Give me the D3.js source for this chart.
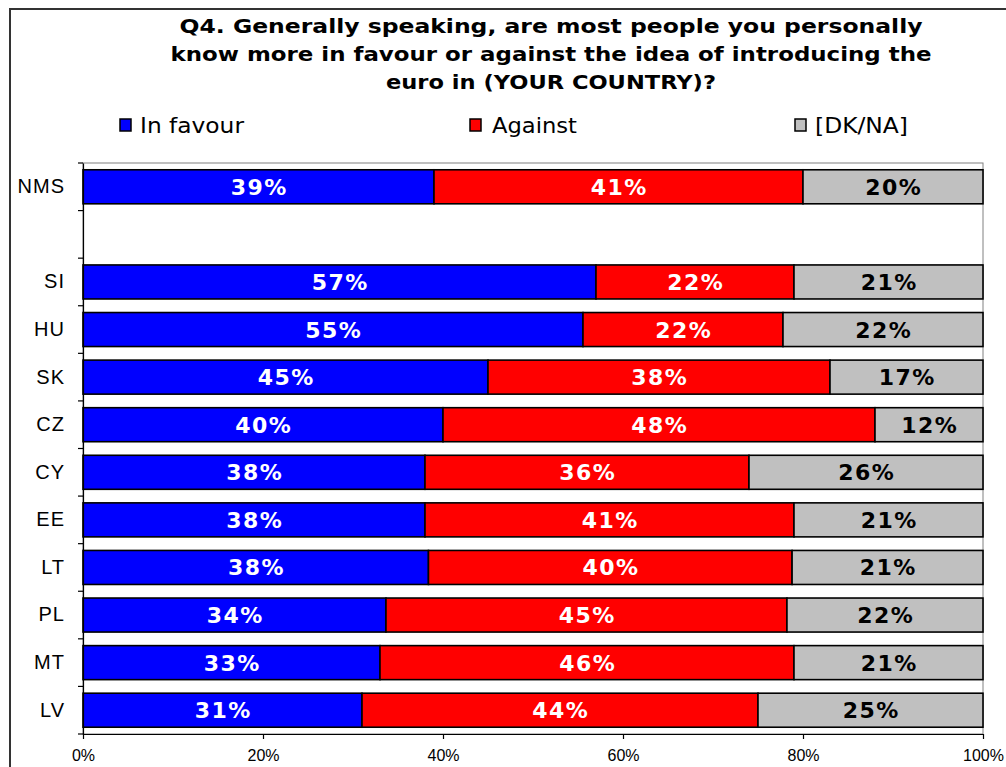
<!DOCTYPE html>
<html>
<head>
<meta charset="utf-8">
<script src="https://cdn.jsdelivr.net/npm/d3@7"></script>
<style>
  html, body { margin: 0; padding: 0; background: #fff; }
  svg { display: block; }
</style>
</head>
<body>
<svg id="chart" width="1006" height="767"></svg>
<script>
// Survey answers by country (percent). The blank row separates the NMS total.
const categories = ["NMS", " ", "SI", "HU", "SK", "CZ", "CY", "EE", "LT", "PL", "MT", "LV"];
const inFavour = [39, null, 57, 55, 45, 40, 38, 38, 38, 34, 33, 31];
const against  = [41, null, 22, 22, 38, 48, 36, 41, 40, 45, 46, 44];
const dkna     = [20, null, 21, 22, 17, 12, 26, 21, 21, 22, 21, 25];
const seriesNames = ["In favour", "Against", "[DK/NA]"];
const tickValues = [0, 0.2, 0.4, 0.6, 0.8, 1];
const titleLines = [
  "Q4. Generally speaking, are most people you personally",
  "know more in favour or against the idea of introducing the",
  "euro in (YOUR COUNTRY)?"
];

const colors = ["#0000FF", "#FF0000", "#C0C0C0"];
const labelColors = ["#FFFFFF", "#FFFFFF", "#000000"];

const svg = d3.select("#chart");

// outer frame
svg.append("rect")
  .attr("x", 10).attr("y", 9).attr("width", 1100).attr("height", 900)
  .attr("fill", "none").attr("stroke", "#333").attr("stroke-width", 2);

// title
const titleSpec = [
  { y: 33, w: 743 },
  { y: 61, w: 761 },
  { y: 89, w: 330 }
];
svg.append("g").selectAll("text")
  .data(titleLines)
  .join("text")
  .attr("x", 551)
  .attr("y", (d, i) => titleSpec[i].y)
  .attr("text-anchor", "middle")
  .attr("textLength", (d, i) => titleSpec[i].w)
  .attr("lengthAdjust", "spacingAndGlyphs")
  .attr("font-family", "DejaVu Sans, Verdana, sans-serif")
  .attr("font-weight", "bold")
  .attr("font-size", 19)
  .attr("fill", "#000")
  .text(d => d);

// legend
const legendPos = [
  { sx: 120, tx: 140, w: 104 },
  { sx: 470, tx: 492, w: 85 },
  { sx: 795, tx: 815, w: 93 }
];
const legend = svg.append("g").selectAll("g")
  .data(seriesNames)
  .join("g");
legend.append("rect")
  .attr("x", (d, i) => legendPos[i].sx)
  .attr("y", 119)
  .attr("width", 11).attr("height", 12)
  .attr("fill", (d, i) => colors[i])
  .attr("stroke", "#000").attr("stroke-width", 1.5);
legend.append("text")
  .attr("x", (d, i) => legendPos[i].tx)
  .attr("y", 133)
  .attr("textLength", (d, i) => legendPos[i].w)
  .attr("lengthAdjust", "spacingAndGlyphs")
  .attr("font-family", "DejaVu Sans, Verdana, sans-serif")
  .attr("font-size", 21)
  .attr("fill", "#000")
  .text(d => d);

// scales
const plot = { left: 83, right: 983, top: 163, bottom: 734 };
const x = d3.scaleLinear().domain([0, 1]).range([plot.left, plot.right]);
const y = d3.scaleBand()
  .domain(categories)
  .range([plot.top, plot.bottom])
  .paddingInner(0.285)
  .paddingOuter(0.1425);

// plot area border
svg.append("rect")
  .attr("x", plot.left).attr("y", plot.top)
  .attr("width", plot.right - plot.left).attr("height", plot.bottom - plot.top)
  .attr("fill", "none").attr("stroke", "#808080").attr("stroke-width", 1);

// stacked, normalised rows
const rows = categories.map((c, i) => ({
  cat: c,
  vals: [inFavour[i], against[i], dkna[i]]
})).filter(r => r.vals[0] != null);

const segs = [];
rows.forEach(r => {
  const total = d3.sum(r.vals);
  let acc = 0;
  r.vals.forEach((v, k) => {
    segs.push({ cat: r.cat, k, v, x0: acc / total, x1: (acc + v) / total });
    acc += v;
  });
});

const barG = svg.append("g");
barG.selectAll("rect")
  .data(segs)
  .join("rect")
  .attr("x", d => x(d.x0))
  .attr("y", d => y(d.cat))
  .attr("width", d => x(d.x1) - x(d.x0))
  .attr("height", y.bandwidth())
  .attr("fill", d => colors[d.k])
  .attr("stroke", "#000")
  .attr("stroke-width", 1.6);

barG.selectAll("text")
  .data(segs)
  .join("text")
  .attr("x", d => (x(d.x0) + x(d.x1)) / 2 + 0.75)
  .attr("y", d => y(d.cat) + y.bandwidth() / 2 + 8)
  .attr("text-anchor", "middle")
  .attr("font-family", "DejaVu Sans, Verdana, sans-serif")
  .attr("font-weight", "bold")
  .attr("font-size", 22)
  .attr("letter-spacing", 1.5)
  .attr("fill", d => labelColors[d.k])
  .text(d => d.v + "%");

// left axis: category labels plus boundary ticks
const yAxis = svg.append("g")
  .attr("transform", `translate(${plot.left},0)`)
  .call(d3.axisLeft(y).tickSize(0).tickPadding(18));
yAxis.select(".domain").attr("stroke", "#000").attr("stroke-width", 1.2);
yAxis.selectAll(".tick text")
  .attr("font-family", "Liberation Sans, Arial, sans-serif")
  .attr("font-size", 20)
  .attr("letter-spacing", 1)
  .attr("fill", "#000");

const boundaries = categories.map(c => y(c) - y.step() * y.paddingInner() / 2)
  .concat([plot.bottom]);
yAxis.selectAll("line.bound")
  .data(boundaries)
  .join("line")
  .attr("class", "bound")
  .attr("x1", -5).attr("x2", 0)
  .attr("y1", d => d).attr("y2", d => d)
  .attr("stroke", "#000").attr("stroke-width", 1.2);

// bottom axis
const xAxis = svg.append("g")
  .attr("transform", `translate(0,${plot.bottom})`)
  .call(d3.axisBottom(x).tickValues(tickValues).tickFormat(d3.format(".0%"))
    .tickSize(5).tickSizeOuter(0).tickPadding(11));
xAxis.select(".domain").attr("stroke", "#000").attr("stroke-width", 1.2);
xAxis.selectAll(".tick line").attr("stroke", "#000").attr("stroke-width", 1.2);
xAxis.selectAll(".tick text")
  .attr("font-family", "Liberation Sans, Arial, sans-serif")
  .attr("font-size", 16)
  .attr("fill", "#000");
</script>
</body>
</html>
